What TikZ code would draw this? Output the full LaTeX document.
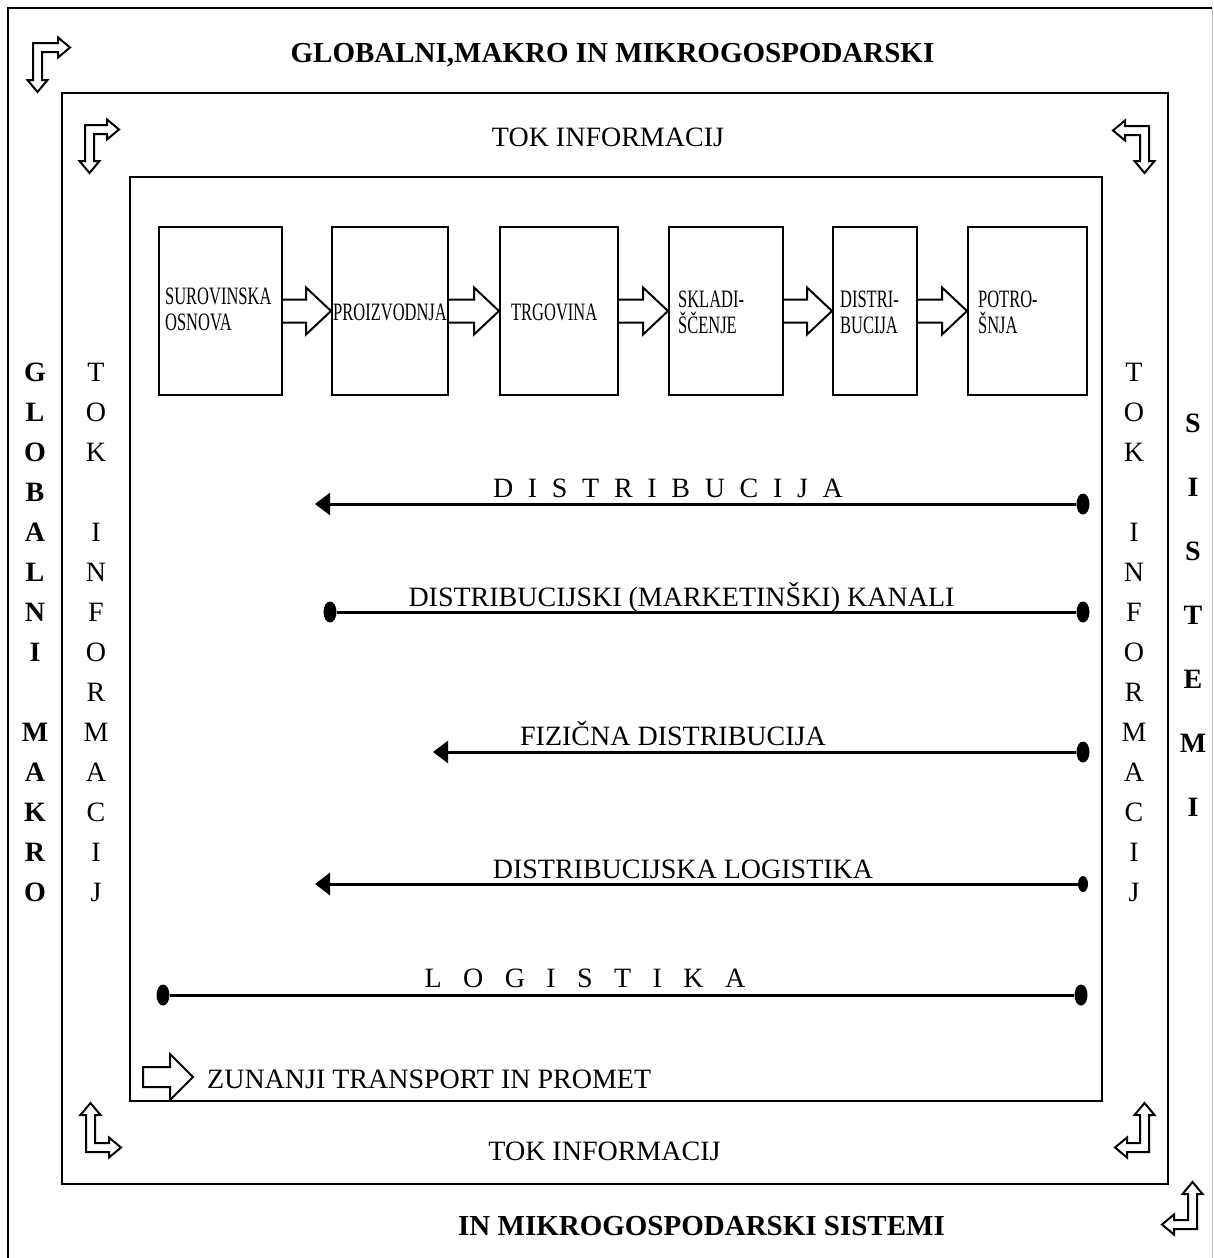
\documentclass[tikz,border=0pt]{standalone}
\usepackage{fontspec}
\setmainfont{Liberation Serif}
\usetikzlibrary{arrows.meta,shapes.geometric,calc}
\tikzset{
  frame/.style={draw, line width=2pt},
  flowbox/.style={draw, line width=2pt, inner sep=0pt},
  boxtext/.style={align=left, font=\fontsize{25}{26}\selectfont, xscale=0.66, inner sep=0pt},
  barrow/.style={draw, line width=2pt, line join=miter},
  carrow/.style={draw, line width=2pt, line join=miter, fill=white},
  conn/.style={draw, line width=3pt},
  tipL/.style={-{Triangle[length=15pt,width=22pt]}},
  dotn/.style={ellipse, fill=black, minimum width=13pt, minimum height=21pt, inner sep=0pt},
  lbl/.style={font=\fontsize{28}{34}\selectfont, inner sep=0pt, anchor=base},
  ttl/.style={font=\fontsize{29}{34}\selectfont\bfseries, inner sep=0pt, anchor=base},
  vstack/.style={align=center, font=\fontsize{28}{40}\selectfont, inner sep=0pt},
}
\newcommand\cornerarrow[6]{%
  \begin{scope}[shift={(#1,#2)},xscale=#3,yscale=#4]
    \draw[carrow] (0,0) -- (#5-12,0) -- (#5-12,-5.5) -- (#5,4.5) -- (#5-12,14.5) -- (#5-12,9)
      -- (9,9) -- (9,#6-12) -- (14.5,#6-12) -- (4.5,#6) -- (-5.5,#6-12) -- (0,#6-12) -- cycle;
  \end{scope}}
\newcommand\blockarrow[2]{%
  \draw[barrow] let \p1=(#1.east), \p2=(#2.west) in
    (\x1,\y1+11.5pt) -- (\x2-25pt,\y1+11.5pt) -- (\x2-25pt,\y1+23.5pt) -- (\x2,\y1)
    -- (\x2-25pt,\y1-23.5pt) -- (\x2-25pt,\y1-11.5pt) -- (\x1,\y1-11.5pt);}
\begin{document}
\begin{tikzpicture}[x=1pt,y=-1pt]
\useasboundingbox (0,0) rectangle (1213,1258);
\fill[white] (0,0) rectangle (1213,1258);
% frames
\draw[frame] (8,1258) -- (8,8) -- (1212,8);
\draw[black!25, line width=0.8pt] (1212,8) -- (1212,1258);
\draw[frame] (62,93) rectangle (1168,1184);
\draw[line width=1.8pt] (130,177) rectangle (1102,1101);
% corner arrows
\cornerarrow{33}{43}{1}{1}{37}{49}
\cornerarrow{85}{125}{1}{1}{34}{48}
\cornerarrow{1149}{126}{-1}{1}{36}{47}
\cornerarrow{86}{1152}{1}{-1}{35}{49}
\cornerarrow{1149}{1152}{-1}{-1}{34}{49}
\cornerarrow{1197}{1229}{-1}{-1}{35}{47}
% titles
\node[ttl] (title) at (612.5,62) {GLOBALNI,MAKRO IN MIKROGOSPODARSKI};
\node[ttl] (btitle) at (701.5,1235) {IN MIKROGOSPODARSKI SISTEMI};
\node[lbl] (tokt) at (608,146) {TOK INFORMACIJ};
\node[lbl] (tokb) at (604.5,1160) {TOK INFORMACIJ};
% vertical stacks
\node[vstack, font=\fontsize{28}{40}\selectfont\bfseries] (gm) at (35,632) {G\\L\\O\\B\\A\\L\\N\\I\\~\\M\\A\\K\\R\\O};
\node[vstack] (tokl) at (96,632) {T\\O\\K\\~\\I\\N\\F\\O\\R\\M\\A\\C\\I\\J};
\node[vstack] (tokr) at (1134,632) {T\\O\\K\\~\\I\\N\\F\\O\\R\\M\\A\\C\\I\\J};
\node[vstack, font=\fontsize{28}{64}\selectfont\bfseries] (sis) at (1193,615) {S\\I\\S\\T\\E\\M\\I};
% flow boxes
\node[flowbox, minimum width=123pt, minimum height=168pt] (b1) at (220.5,311) {};
\node[flowbox, minimum width=116pt, minimum height=168pt] (b2) at (390,311) {};
\node[flowbox, minimum width=118pt, minimum height=168pt] (b3) at (559,311) {};
\node[flowbox, minimum width=114pt, minimum height=168pt] (b4) at (726,311) {};
\node[flowbox, minimum width=84pt, minimum height=168pt] (b5) at (875,311) {};
\node[flowbox, minimum width=119pt, minimum height=168pt] (b6) at (1027.5,311) {};
\node[boxtext, anchor=west] (t1) at ([xshift=7pt,yshift=2pt]b1.west) {SUROVINSKA\\OSNOVA};
\node[boxtext] (t2) at ([yshift=-1pt]b2.center) {PROIZVODNJA};
\node[boxtext, anchor=west] (t3) at ([xshift=12pt,yshift=-1pt]b3.west) {TRGOVINA};
\node[boxtext, anchor=west] (t4) at ([xshift=10pt,yshift=-1pt]b4.west) {SKLADI-\\ŠČENJE};
\node[boxtext, anchor=west] (t5) at ([xshift=8pt,yshift=-1pt]b5.west) {DISTRI-\\BUCIJA};
\node[boxtext, anchor=west] (t6) at ([xshift=11pt,yshift=-1pt]b6.west) {POTRO-\\ŠNJA};
\blockarrow{b1}{b2}
\blockarrow{b2}{b3}
\blockarrow{b3}{b4}
\blockarrow{b4}{b5}
\blockarrow{b5}{b6}
% lines
\node[dotn] (d1r) at (1083,504) {};
\coordinate (a1) at (315,504);
\draw[conn, tipL] (d1r) -- (a1);
\node[lbl] (l1) at (668,497) {{\spaceskip=14.7pt D I S T R I B U C I J A}};
\node[dotn] (d2l) at (330,612) {};
\node[dotn] (d2r) at (1083,612) {};
\draw[conn] (d2l) -- (d2r);
\node[lbl] (l2) at (681.5,606) {DISTRIBUCIJSKI (MARKETINŠKI) KANALI};
\node[dotn] (d3r) at (1083,752) {};
\coordinate (a3) at (433,752);
\draw[conn, tipL] (d3r) -- (a3);
\node[lbl] (l3) at (673,745) {FIZIČNA DISTRIBUCIJA};
\node[dotn, minimum width=10pt, minimum height=16pt] (d4r) at (1083,884) {};
\coordinate (a4) at (315,884);
\draw[conn, tipL] (d4r) -- (a4);
\node[lbl] (l4) at (683,878) {DISTRIBUCIJSKA LOGISTIKA};
\node[dotn] (d5l) at (163,995) {};
\node[dotn] (d5r) at (1081,995) {};
\draw[conn] (d5l) -- (d5r);
\node[lbl] (l5) at (585,987) {{\spaceskip=21.4pt L O G I S T I K A}};
% external transport
\draw[barrow] (143,1067) -- (170,1067) -- (170,1054) -- (193,1077) -- (170,1100) -- (170,1087) -- (143,1087) -- cycle;
\node[lbl, anchor=base west] (zt) at (207,1088) {ZUNANJI TRANSPORT IN PROMET};
\end{tikzpicture}
\end{document}
